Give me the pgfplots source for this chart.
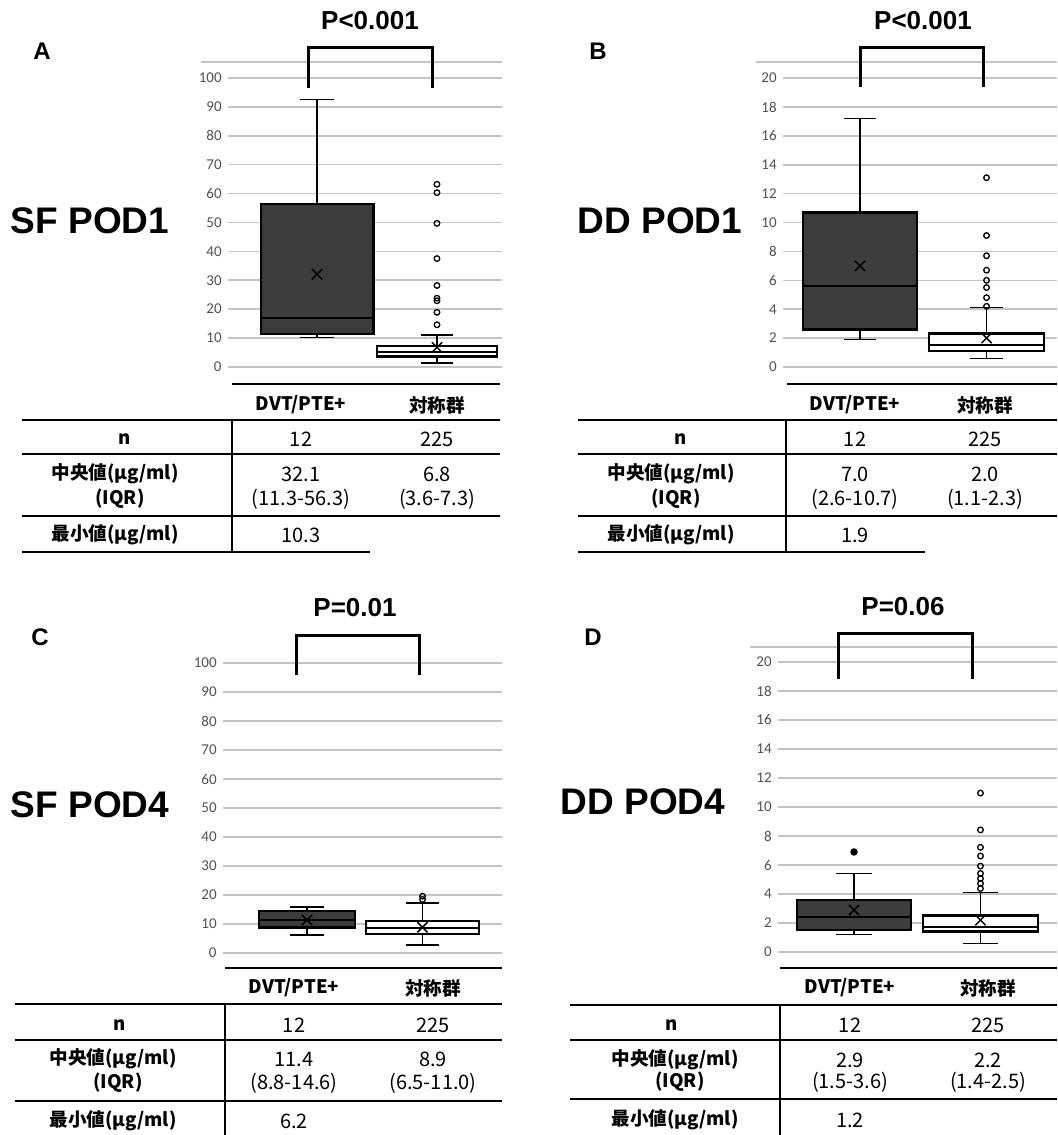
\documentclass[border=0pt]{standalone}
\usepackage{fontspec}
\usepackage{pgfplots}
\pgfplotsset{compat=1.18}
\usepgfplotslibrary{statistics}
\setmainfont{Noto Sans CJK JP}
\newfontfamily\labfont{Liberation Sans}
\newfontfamily\tickfont{Carlito}
\definecolor{gridgray}{HTML}{C4C4C4}
\definecolor{tickgray}{HTML}{505050}
\definecolor{boxdark}{HTML}{3C3C3C}

\pgfplotsset{
  panel/.style={
    scale only axis, clip=false, anchor=south west,
    axis line style={draw=none},
    xtick=\empty, major tick length=0pt,
    ymajorgrids, grid style={gridgray, line width=0.8pt},
    /pgf/number format/assume math mode=true,
    yticklabel style={font=\tickfont\fontsize{7.5}{8}\selectfont, text=tickgray, inner sep=0pt, xshift=-3pt},
    boxplot/draw direction=y,
  },
  darkbp/.style={draw=black, line width=0.7pt, mark=*, mark size=1.5pt, mark options={solid, fill=black},
    boxplot/every box/.style={fill=boxdark, line width=1.1pt},
    boxplot/every median/.style={line width=1pt},
  },
  whitebp/.style={draw=black, line width=0.7pt, mark=o, mark size=1.4pt, mark options={solid, line width=0.65pt},
    boxplot/every box/.style={fill=white, line width=1.3pt},
    boxplot/every median/.style={line width=1pt},
  },
  meanmark/.style={only marks, black, mark=x, mark size=3.6pt, mark options={line width=0.75pt}},
}
\tikzset{
  hb/.style={font=\bfseries\fontsize{9.3}{10}\selectfont, inner sep=0pt},
  hr/.style={font=\fontsize{10}{11}\selectfont, inner sep=0pt},
  panlab/.style={font=\labfont\bfseries\fontsize{12}{14}\selectfont},
  bigtitle/.style={font=\labfont\bfseries\fontsize{18.5}{20}\selectfont},
  ptext/.style={font=\labfont\bfseries\fontsize{13}{15}\selectfont},
  brk/.style={line width=1.5pt},
  tl/.style={line width=1.1pt},
}

\begin{document}
\begin{tikzpicture}
\path[use as bounding box] (0,0) rectangle (528.5pt,-567.5pt);

% ---------------- Panel A: SF POD1 ----------------
\begin{axis}[panel, at={(114pt,-191.5pt)}, width=137pt, height=160.5pt,
  xmin=0.258, xmax=2.542, ymin=-5.54, ymax=105.5, ytick={0,10,...,100}]
\addplot[darkbp, boxplot prepared={draw position=1, lower whisker=10.3, lower quartile=11.3,
  median=17.1, upper quartile=56.3, upper whisker=92.6, box extend=0.94, whisker extend=0.28}] coordinates {};
\addplot[whitebp, boxplot prepared={draw position=2, lower whisker=1.4, lower quartile=3.6,
  median=5.2, upper quartile=7.3, upper whisker=11.0, box extend=1.0, whisker extend=0.27}]
  table[row sep=\\, y=y] {y\\ 63.2\\ 60.3\\ 49.7\\ 37.5\\ 28.2\\ 23.8\\ 22.9\\ 18.9\\ 14.6\\};
\addplot[meanmark] coordinates {(1,32.1) (2,6.8)};
\draw[gridgray, line width=0.8pt] (rel axis cs:-0.1,1) -- (rel axis cs:1,1);
\end{axis}

% ---------------- Panel B: DD POD1 ----------------
\begin{axis}[panel, at={(391.5pt,-191.5pt)}, width=137pt, height=160.5pt,
  xmin=0.391, xmax=2.557, ymin=-1.107, ymax=21.11, ytick={0,2,...,20}]
\addplot[darkbp, boxplot prepared={draw position=1, lower whisker=1.9, lower quartile=2.6,
  median=5.6, upper quartile=10.7, upper whisker=17.2, box extend=0.9, whisker extend=0.26}] coordinates {};
\addplot[whitebp, boxplot prepared={draw position=2, lower whisker=0.6, lower quartile=1.1,
  median=1.5, upper quartile=2.3, upper whisker=4.1, box extend=0.91, whisker extend=0.26}]
  table[row sep=\\, y=y] {y\\ 13.1\\ 9.1\\ 7.7\\ 6.7\\ 6.0\\ 5.5\\ 4.8\\ 4.2\\};
\addplot[meanmark] coordinates {(1,7.0) (2,2.0)};
\draw[gridgray, line width=0.8pt] (rel axis cs:-0.1,1) -- (rel axis cs:1,1);
\end{axis}

% ---------------- Panel C: SF POD4 ----------------
\begin{axis}[panel, at={(111.5pt,-484pt)}, width=139.5pt, height=159pt,
  xmin=0.273, xmax=2.688, ymin=-5.17, ymax=104.5, ytick={0,10,...,100}]
\addplot[darkbp, boxplot prepared={draw position=1, lower whisker=6.2, lower quartile=8.8,
  median=11.5, upper quartile=14.6, upper whisker=15.9, box extend=0.83, whisker extend=0.3}] coordinates {};
\addplot[whitebp, boxplot prepared={draw position=2, lower whisker=2.8, lower quartile=6.5,
  median=8.8, upper quartile=11.0, upper whisker=17.3, box extend=0.98, whisker extend=0.28}]
  table[row sep=\\, y=y] {y\\ 18.5\\ 19.6\\};
\addplot[meanmark] coordinates {(1,11.4) (2,8.9)};
\end{axis}

% ---------------- Panel D: DD POD4 ----------------
\begin{axis}[panel, at={(389pt,-484pt)}, width=139.5pt, height=160.5pt,
  xmin=0.399, xmax=2.605, ymin=-1.10, ymax=21.03, ytick={0,2,...,20}]
\addplot[darkbp, boxplot prepared={draw position=1, lower whisker=1.2, lower quartile=1.5,
  median=2.4, upper quartile=3.6, upper whisker=5.4, box extend=0.9, whisker extend=0.29}]
  table[row sep=\\, y=y] {y\\ 6.9\\};
\addplot[whitebp, boxplot prepared={draw position=2, lower whisker=0.6, lower quartile=1.4,
  median=1.75, upper quartile=2.5, upper whisker=4.1, box extend=0.91, whisker extend=0.27}]
  table[row sep=\\, y=y] {y\\ 10.96\\ 8.42\\ 7.22\\ 6.62\\ 5.93\\ 5.42\\ 5.07\\ 4.73\\ 4.38\\};
\addplot[meanmark] coordinates {(1,2.9) (2,2.2)};
\draw[gridgray, line width=0.8pt] (rel axis cs:-0.1,1) -- (rel axis cs:1,1);
\end{axis}

\begin{scope}[x=0.5pt, y=-0.5pt]
% ---- labels, titles, brackets ----
\node[panlab] at (42,51) {A};
\node[bigtitle] at (90,221) {SF POD1};
\node[ptext] at (370,21) {P<0.001};
\draw[brk] (308,88) -- (308,47) -- (432,47) -- (432,88);

\node[panlab] at (598,51) {B};
\node[bigtitle] at (660,221) {DD POD1};
\node[ptext] at (923,21) {P<0.001};
\draw[brk] (860,87) -- (860,47) -- (983,47) -- (983,87);

\node[panlab] at (40,637) {C};
\node[bigtitle] at (90,805) {SF POD4};
\node[ptext] at (355,608) {P=0.01};
\draw[brk] (296,675) -- (296,635) -- (419,635) -- (419,675);

\node[panlab] at (593,637) {D};
\node[bigtitle] at (643,802) {DD POD4};
\node[ptext] at (903,607) {P=0.06};
\draw[brk] (838,679) -- (838,633) -- (972,633) -- (972,679);

% ---- Table A ----
\draw[tl] (232,384) -- (500,384);
\node[hb] at (301,405) {DVT/PTE+};
\node[hb] at (437,405) {対称群};
\draw[tl] (22,420) -- (500,420);
\draw[line width=1pt] (232,420) -- (232,552);
\node[hb] at (125,439) {n};
\node[hr] at (301,439) {12};
\node[hr] at (437,439) {225};
\draw[tl] (22,454) -- (500,454);
\node[hb] at (115,474) {中央値(μg/ml)};
\node[hb] at (120,499) {(IQR)};
\node[hr] at (301,474) {32.1};
\node[hr] at (301,499) {(11.3-56.3)};
\node[hr] at (437,474) {6.8};
\node[hr] at (437,499) {(3.6-7.3)};
\draw[tl] (22,516) -- (500,516);
\node[hb] at (115,535) {最小値(μg/ml)};
\node[hr] at (301,535) {10.3};
\draw[tl] (22,552) -- (370,552);

% ---- Table B ----
\draw[tl] (787,384) -- (1057,384);
\node[hb] at (855,405) {DVT/PTE+};
\node[hb] at (985,405) {対称群};
\draw[tl] (578,420) -- (1057,420);
\draw[line width=1pt] (786,420) -- (786,552);
\node[hb] at (681,439) {n};
\node[hr] at (855,439) {12};
\node[hr] at (985,439) {225};
\draw[tl] (578,454) -- (1057,454);
\node[hb] at (671,474) {中央値(μg/ml)};
\node[hb] at (676,499) {(IQR)};
\node[hr] at (855,474) {7.0};
\node[hr] at (855,499) {(2.6-10.7)};
\node[hr] at (985,474) {2.0};
\node[hr] at (985,499) {(1.1-2.3)};
\draw[tl] (578,516) -- (1057,516);
\node[hb] at (671,535) {最小値(μg/ml)};
\node[hr] at (855,535) {1.9};
\draw[tl] (578,552) -- (925,552);

% ---- Table C ----
\draw[tl] (225,968) -- (502,968);
\node[hb] at (294,988) {DVT/PTE+};
\node[hb] at (433,988) {対称群};
\draw[tl] (15,1004) -- (502,1004);
\draw[line width=1pt] (225,1004) -- (225,1135);
\node[hb] at (120,1025) {n};
\node[hr] at (294,1025) {12};
\node[hr] at (433,1025) {225};
\draw[tl] (15,1040) -- (502,1040);
\node[hb] at (113,1059) {中央値(μg/ml)};
\node[hb] at (118,1083) {(IQR)};
\node[hr] at (294,1059) {11.4};
\node[hr] at (294,1083) {(8.8-14.6)};
\node[hr] at (433,1059) {8.9};
\node[hr] at (433,1083) {(6.5-11.0)};
\draw[tl] (15,1101) -- (502,1101);
\node[hb] at (113,1121) {最小値(μg/ml)};
\node[hr] at (294,1121) {6.2};

% ---- Table D ----
\draw[tl] (780,968) -- (1057,968);
\node[hb] at (850,988) {DVT/PTE+};
\node[hb] at (988,988) {対称群};
\draw[tl] (570,1005) -- (1057,1005);
\draw[line width=1pt] (780,1005) -- (780,1135);
\node[hb] at (672,1025) {n};
\node[hr] at (850,1025) {12};
\node[hr] at (988,1025) {225};
\draw[tl] (570,1040) -- (1057,1040);
\node[hb] at (675,1060) {中央値(μg/ml)};
\node[hb] at (680,1082) {(IQR)};
\node[hr] at (850,1060) {2.9};
\node[hr] at (850,1082) {(1.5-3.6)};
\node[hr] at (988,1060) {2.2};
\node[hr] at (988,1082) {(1.4-2.5)};
\draw[tl] (570,1099) -- (1057,1099);
\node[hb] at (675,1120) {最小値(μg/ml)};
\node[hr] at (850,1120) {1.2};
\end{scope}
\end{tikzpicture}
\end{document}
